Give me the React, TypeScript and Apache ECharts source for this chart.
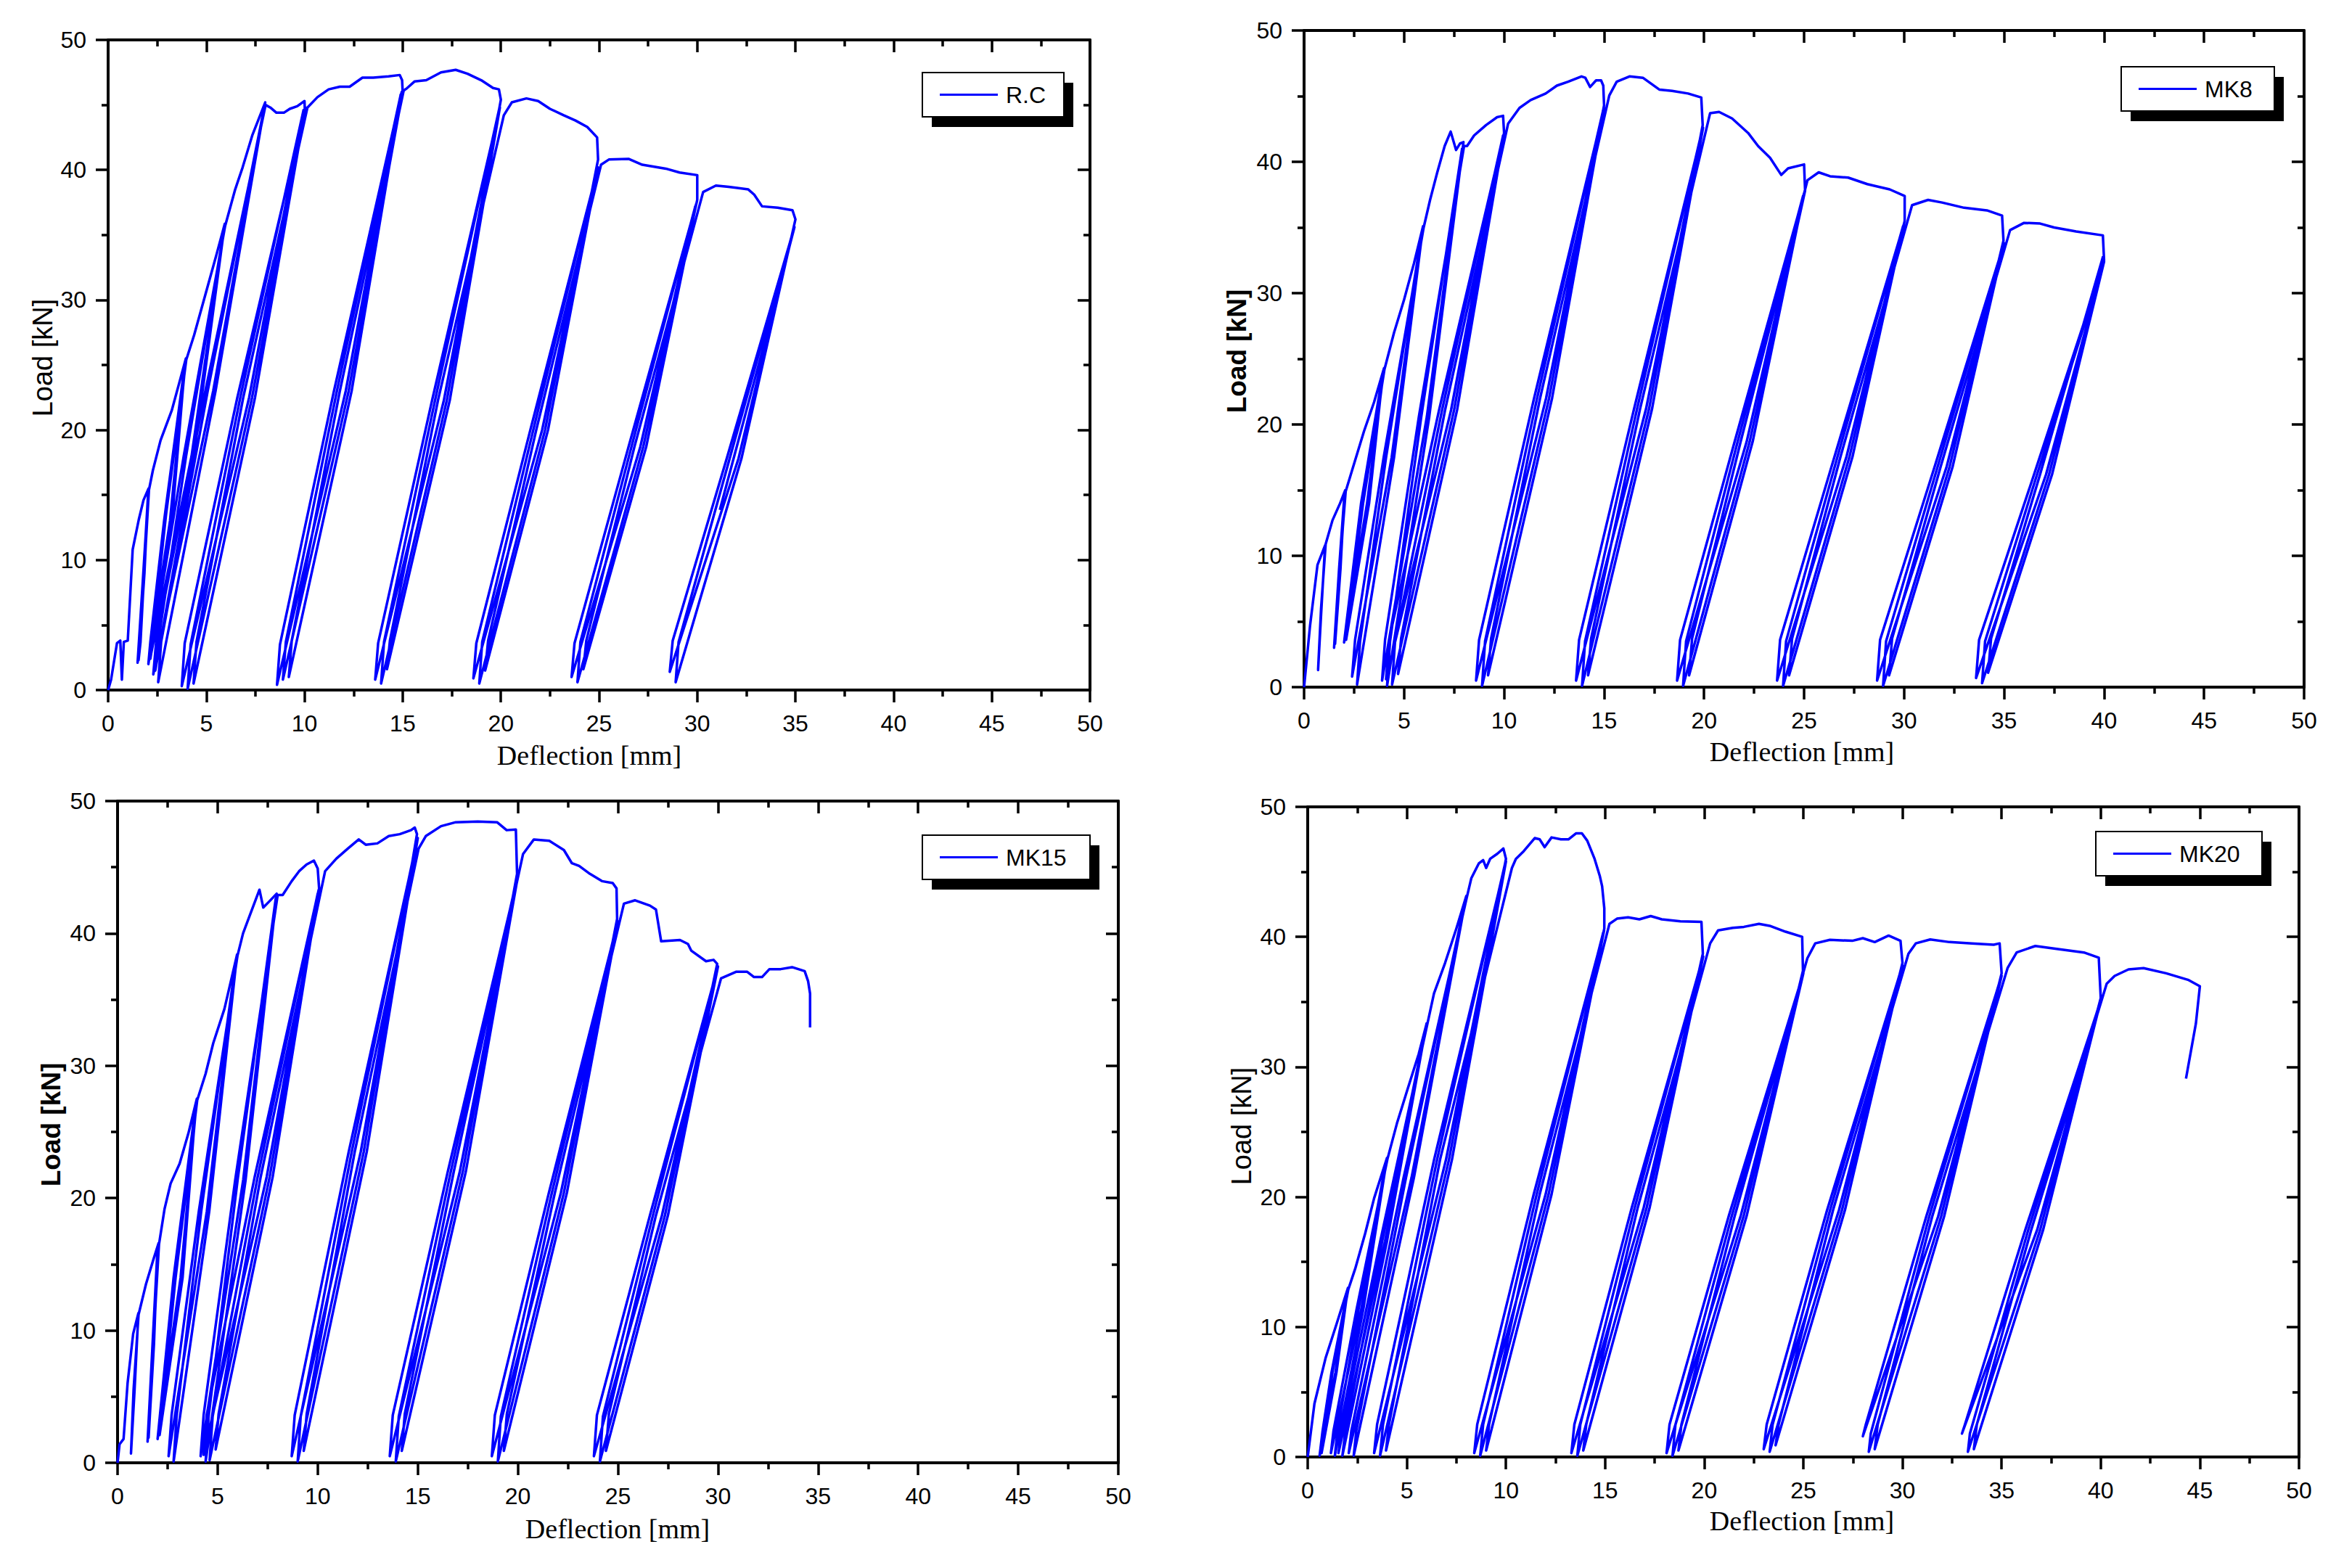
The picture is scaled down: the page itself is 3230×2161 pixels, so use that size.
import React, { useEffect, useRef } from "react";
import * as echarts from "echarts";

type Pt = [number, number];

// ---------- axis ranges / ticks ----------
const xRange: [number, number] = [0, 50];
const xStep = 5;
const yRange: [number, number] = [0, 50];
const yStep = 10;
const seriesNames = ["R.C", "MK8", "MK15", "MK20"];
const axisTitleX = "Deflection [mm]";
const axisTitleY = "Load [kN]";

// ---------- R.C ----------
const rcRise: Pt[] = [[0,0],[0.15,0.8],[0.45,3.6],[0.62,3.8],[0.7,0.8],[0.8,3.7],[1.0,3.8],[1.25,10.8],[1.56,13.1],[1.8,14.6],[2.06,15.5],
  [1.75,8],[1.5,2.1],[1.6,3.7],[1.8,9],[2.04,15.2],[1.85,9],[1.55,2.3],[1.65,3.7],[1.85,9.5],[2.08,15.4],
  [2.28,16.9],[2.67,19.2],[3.24,21.5],[3.6,23.5],[3.96,25.5]];
const rcCycle4: Pt[] = [[3.15,13],[2.05,2.0],[2.15,3.7],[2.85,13],[3.92,25.2],[3.25,13],[2.15,2.4],[2.25,3.8],[2.95,13.5],[3.98,25.4],
  [4.38,27.3],[4.95,30.4],[5.52,33.5],[5.94,35.85]];
const rcCycle6: Pt[] = [[4.37,18],[2.4,1.5],[2.55,3.7],[3.97,18],[5.9,35.4],[4.25,18],[2.15,2.5],[2.3,3.8],[3.85,18],[5.96,35.7],
  [6.47,38.5],[6.85,40.2],[7.35,42.7],[8.0,45.2]];
const rcCycle8: Pt[] = [[5.47,23],[2.55,0.6],[2.7,3.7],[5.07,23],[7.95,44.8],[5.35,23],[2.3,1.2],[2.45,3.8],[4.95,23],[8.02,45.0],
  [8.26,44.8],[8.57,44.4],[8.95,44.4],[9.25,44.7],[9.63,44.9],[10.0,45.3]];
const rcCycle10: Pt[] = [[10.02,44.5],[7.33,22.5],[4.05,0.1],[4.2,3.5],[6.73,22.5],[9.95,44.6],[7.18,22.5],[3.75,0.3],[3.9,3.6],[6.58,22.5],[10.05,44.8],
  [7.48,22.5],[4.35,0.5],[4.5,3.7],[6.88,22.5],[10.15,44.8],
  [10.66,45.6],[11.23,46.2],[11.8,46.4],[12.3,46.4],[12.95,47.1],[13.5,47.1],[14.28,47.2],[14.85,47.3],[14.97,46.9]];
const rcCycle15: Pt[] = [[15.0,46.0],[12.25,23],[8.9,0.8],[9.05,3.7],[11.65,23],[14.9,45.8],[12.1,23],[8.6,0.4],[8.75,3.5],[11.5,23],[14.95,46.0],
  [12.4,23],[9.2,1.0],[9.35,3.8],[11.8,23],[15.05,46.1],
  [15.23,46.3],[15.6,46.8],[16.2,46.9],[16.95,47.5],[17.7,47.7],[18.3,47.4],[19.0,46.9],[19.6,46.3],[19.9,46.2],[20.0,45.4]];
const rcCycle20: Pt[] = [[17.25,22.3],[13.9,0.5],[14.05,3.7],[16.65,22.3],[19.9,44.6],[17.1,22.3],[13.6,0.8],[13.75,3.6],[16.5,22.3],[19.95,44.8],
  [17.4,22.3],[14.2,1.6],[14.35,3.8],[16.8,22.3],[20.15,44.2],
  [20.56,45.2],[21.3,45.5],[21.9,45.3],[22.5,44.7],[23.2,44.2],[23.8,43.8],[24.4,43.3],[24.9,42.5],[24.95,40.8]];
const rcCycle25: Pt[] = [[22.25,20],[18.9,0.5],[19.05,3.7],[21.65,20],[24.9,40.0],[22.1,20],[18.6,0.9],[18.75,3.6],[21.5,20],[24.95,40.2],
  [22.4,20],[19.2,1.5],[19.35,3.8],[21.8,20],[25.1,40.4],
  [25.5,40.8],[26.5,40.85],[27.2,40.4],[28.4,40.1],[29.1,39.8],[30.0,39.6],[30.0,37.7]];
const rcCycle30: Pt[] = [[27.25,18.7],[23.9,0.6],[24.05,3.7],[26.65,18.7],[29.9,37.2],[27.1,18.7],[23.6,1.0],[23.75,3.6],[26.5,18.7],[29.95,37.4],
  [27.4,18.7],[24.2,1.6],[24.35,3.8],[26.8,18.7],[30.3,38.3],
  [30.95,38.8],[31.6,38.7],[32.6,38.5],[32.9,38.1],[33.3,37.2],[34.1,37.1],[34.85,36.9],[35.0,36.2]];
const rcCycle35: Pt[] = [[32.25,17.8],[28.9,0.6],[29.05,3.7],[31.65,17.8],[34.9,35.4],[32.1,17.8],[28.6,1.4],[28.75,3.8],[31.5,17.8],[34.95,35.6],
  [33.3,26],[31.15,13.85]];

// ---------- MK8 ----------
const mk8Rise: Pt[] = [[0,0],[0.3,4.7],[0.67,9.3],[1.05,10.8],[0.85,5.5],[0.7,1.3],[0.85,6],[1.08,10.9],[1.42,12.7],[1.8,14.0],[2.06,15.0],
  [1.8,9],[1.5,3.0],[1.75,9],[2.02,14.7],[1.82,9],[1.55,3.3],[1.78,9.2],[2.08,14.9],[2.4,16.5],[3.0,19.5],[3.5,21.7],[4.0,24.3]];
const mk8Cycle4: Pt[] = [[3.15,14],[2.0,3.4],[2.85,14],[3.95,24.0],[3.25,14],[2.1,3.6],[2.95,14],[4.02,24.2],
  [4.5,27.0],[5.0,29.5],[5.5,32.3],[5.95,35.1]];
const mk8Cycle6: Pt[] = [[4.5,17.5],[2.65,0.2],[2.8,3.5],[4.1,17.5],[5.9,34.7],[4.38,17.5],[2.4,0.8],[2.55,3.6],[3.98,17.5],[5.98,35.0],
  [6.3,37.1],[6.66,39.2],[7.03,41.2],[7.33,42.3],[7.6,40.9],[7.8,41.4],[7.97,41.5]];
const mk8Cycle8: Pt[] = [[6.26,20.6],[4.15,0.1],[4.3,3.5],[5.86,20.6],[7.9,41.0],[6.14,20.6],[3.9,0.5],[4.05,3.6],[5.74,20.6],[8.0,41.2],
  [8.15,41.2],[8.5,42.0],[9.1,42.8],[9.65,43.4],[9.95,43.5],[10.0,42.2]];
const mk8Cycle10: Pt[] = [[7.5,21.1],[4.4,0.2],[4.55,3.5],[6.9,21.1],[9.95,42.0],[7.35,21.1],[4.1,0.6],[4.25,3.6],[6.75,21.1],[10.02,42.3],
  [7.65,21.1],[4.7,1.0],[4.85,3.7],[7.05,21.1],[10.2,42.9],
  [10.77,44.1],[11.33,44.7],[12.08,45.2],[12.64,45.8],[13.2,46.1],[13.87,46.5],[14.06,46.4],[14.3,45.7],[14.6,46.2],[14.85,46.2],[14.96,45.8],[15.0,44.3]];
const mk8Cycle15: Pt[] = [[12.25,22],[8.9,0.1],[9.05,3.5],[11.65,22],[14.95,43.9],[12.1,22],[8.6,0.5],[8.75,3.6],[11.5,22],[15.0,44.1],
  [12.4,22],[9.2,0.9],[9.35,3.7],[11.8,22],[15.26,45.05],
  [15.63,46.1],[16.27,46.5],[16.94,46.4],[17.76,45.5],[18.4,45.4],[19.2,45.2],[19.86,44.9],[19.93,42.8]];
const mk8Cycle20: Pt[] = [[17.25,21.2],[13.9,0.1],[14.05,3.5],[16.65,21.2],[19.9,42.4],[17.1,21.2],[13.6,0.5],[13.75,3.6],[16.5,21.2],[19.95,42.6],
  [17.4,21.2],[14.2,0.9],[14.35,3.7],[16.8,21.2],[20.3,43.7],
  [20.75,43.8],[21.4,43.3],[22.2,42.2],[22.7,41.2],[23.3,40.3],[23.86,39.0],[24.2,39.5],[25.0,39.8],[25.05,37.8]];
const mk8Cycle25: Pt[] = [[22.28,18.7],[18.95,0.1],[19.1,3.5],[21.68,18.7],[24.95,37.4],[22.13,18.7],[18.65,0.5],[18.8,3.6],[21.53,18.7],[25.0,37.6],
  [22.43,18.7],[19.25,0.9],[19.4,3.7],[21.83,18.7],[25.17,38.6],
  [25.73,39.2],[26.3,38.9],[27.2,38.8],[28.16,38.3],[29.28,37.9],[30.03,37.4],[30.03,35.5]];
const mk8Cycle30: Pt[] = [[27.28,17.6],[23.95,0.1],[24.1,3.5],[26.68,17.6],[29.95,35.1],[27.13,17.6],[23.65,0.5],[23.8,3.6],[26.53,17.6],[30.0,35.3],
  [27.43,17.6],[24.25,0.9],[24.4,3.7],[26.83,17.6],[30.4,36.7],
  [31.2,37.1],[31.9,36.9],[33.0,36.5],[34.14,36.3],[34.9,35.9],[34.97,34.0]];
const mk8Cycle35: Pt[] = [[32.28,16.8],[28.95,0.1],[29.1,3.5],[31.68,16.8],[34.95,33.6],[32.13,16.8],[28.65,0.5],[28.8,3.6],[31.53,16.8],[35.0,33.8],
  [32.43,16.8],[29.25,0.9],[29.4,3.7],[31.83,16.8],[35.3,34.8],
  [36.0,35.35],[36.8,35.3],[37.5,35.0],[38.6,34.7],[39.94,34.4],[40.0,32.5]];
const mk8Cycle40: Pt[] = [[37.25,16.2],[33.9,0.3],[34.05,3.5],[36.65,16.2],[39.95,32.1],[37.1,16.2],[33.6,0.7],[33.75,3.6],[36.5,16.2],[40.0,32.4],
  [37.4,16.2],[34.2,1.1],[34.35,3.7],[36.8,16.2],[39.95,32.8]];

// ---------- MK15 ----------
const mk15Rise: Pt[] = [[0,0],[0.1,1.4],[0.3,1.8],[0.5,6.0],[0.78,9.75],[1.04,11.3],[0.85,5.5],[0.67,0.7],[0.8,5.5],[1.05,11.2],
  [1.42,13.5],[1.8,15.4],[2.05,16.6],
  [1.8,9],[1.5,1.6],[1.75,9],[2.0,16.3],[1.82,9],[1.55,1.9],[1.78,9],[2.07,16.5],
  [2.35,19.2],[2.65,21.1],[3.1,22.6],[3.54,24.9],[3.96,27.5]];
const mk15Cycle4: Pt[] = [[3.15,14],[2.0,1.8],[2.8,14],[3.92,27.2],[3.25,14],[2.1,2.1],[2.9,14],[3.98,27.4],
  [4.4,29.4],[4.78,31.7],[5.34,34.3],[5.97,38.4]];
const mk15Cycle6: Pt[] = [[4.58,19],[2.8,0.1],[2.95,3.5],[4.18,19],[5.92,38.0],[4.46,19],[2.55,0.5],[2.7,3.6],[4.06,19],[5.99,38.3],
  [6.27,40.0],[6.64,41.5],[7.09,43.3],[7.28,41.95],[7.57,42.4],[7.95,43.0]];
const mk15Cycle8: Pt[] = [[6.4,21.4],[4.4,0.1],[4.55,3.5],[6.0,21.4],[7.9,42.6],[6.28,21.4],[4.15,0.5],[4.3,3.6],[5.88,21.4],[8.0,42.9],
  [8.25,42.9],[8.7,43.95],[9.07,44.7],[9.44,45.2],[9.81,45.5],[10.0,44.9],[10.07,43.4]];
const mk15Cycle10: Pt[] = [[7.6,21.6],[4.6,0.2],[4.75,3.5],[7.0,21.6],[10.0,43.0],[7.45,21.6],[4.3,0.6],[4.45,3.6],[6.85,21.6],[10.05,43.3],
  [7.75,21.6],[4.9,1.0],[5.05,3.7],[7.15,21.6],[10.37,44.7],
  [10.93,45.65],[11.5,46.4],[12.05,47.1],[12.4,46.7],[12.98,46.8],[13.55,47.35],[14.1,47.5],[14.66,47.8],[14.85,48.0],[14.96,47.5]];
const mk15Cycle15: Pt[] = [[12.3,23.5],[9.0,0.1],[9.15,3.5],[11.7,23.5],[14.95,47.0],[12.15,23.5],[8.7,0.5],[8.85,3.6],[11.55,23.5],[15.0,47.2],
  [12.45,23.5],[9.3,0.9],[9.45,3.7],[11.85,23.5],[15.04,46.4],
  [15.4,47.35],[16.16,48.1],[16.9,48.4],[18.0,48.45],[18.96,48.4],[19.44,47.8],[19.9,47.85],[19.96,44.5]];
const mk15Cycle20: Pt[] = [[17.25,22],[13.9,0.1],[14.05,3.5],[16.65,22],[19.95,44.1],[17.1,22],[13.6,0.5],[13.75,3.6],[16.5,22],[20.0,44.3],
  [17.4,22],[14.2,0.9],[14.35,3.7],[16.8,22],[20.26,46.0],
  [20.8,47.1],[21.57,47.0],[22.3,46.3],[22.7,45.3],[23.06,45.1],[23.6,44.5],[24.2,43.95],[24.74,43.8],[24.93,43.4],[24.96,41.1]];
const mk15Cycle25: Pt[] = [[22.3,20.4],[19.0,0.1],[19.15,3.5],[21.7,20.4],[24.95,40.7],[22.15,20.4],[18.7,0.5],[18.85,3.6],[21.55,20.4],[25.0,40.9],
  [22.45,20.4],[19.3,0.9],[19.45,3.7],[21.85,20.4],[25.3,42.25],
  [25.86,42.5],[26.6,42.1],[26.9,41.8],[27.16,39.4],[28.1,39.5],[28.5,39.2],[28.66,38.7],[29.4,37.9],[29.78,38.0],[29.96,37.7]];
const mk15Cycle30: Pt[] = [[27.35,18.7],[24.1,0.1],[24.25,3.5],[26.75,18.7],[29.95,37.3],[27.2,18.7],[23.8,0.5],[23.95,3.6],[26.6,18.7],[30.0,37.5],
  [27.5,18.7],[24.4,0.9],[24.55,3.7],[26.9,18.7],[30.15,36.6],
  [30.9,37.1],[31.46,37.1],[31.8,36.7],[32.2,36.7],[32.57,37.3],[33.13,37.3],[33.7,37.45],[34.33,37.15],[34.5,36.4],[34.6,35.45],[34.6,32.9]];

// ---------- MK20 ----------
const mk20Rise: Pt[] = [[0,0],[0.34,4.1],[0.9,7.6],[1.47,10.3],[2.03,13.0],
  [1.4,6.5],[0.6,0.1],[0.75,2],[1.2,6.5],[2.0,12.7],[1.45,6.5],[0.7,0.3],[0.85,2],[1.25,6.5],[2.05,12.9],
  [2.4,14.5],[2.9,17.2],[3.35,19.9],[4.0,23.0]];
const mk20Cycle4: Pt[] = [[2.81,11.4],[1.37,0.1],[1.5,2],[2.57,11.4],[3.95,22.7],[2.71,11.4],[1.17,0.3],[1.3,2],[2.47,11.4],[4.02,22.9],
  [4.5,25.65],[5.05,28.35],[5.6,31.0],[6.0,33.35]];
const mk20Cycle6: Pt[] = [[4.0,16.6],[1.75,0.1],[1.9,2],[3.76,16.6],[5.95,33.0],[3.9,16.6],[1.55,0.3],[1.7,2],[3.66,16.6],[6.02,33.2],
  [6.37,35.65],[6.93,38.0],[7.5,40.65],[8.0,43.15]];
const mk20Cycle8: Pt[] = [[5.36,21.5],[2.32,0.1],[2.45,2],[4.96,21.5],[7.95,42.8],[5.24,21.5],[2.07,0.3],[2.2,2],[4.84,21.5],[8.02,43.0],
  [8.25,44.5],[8.63,45.65],[8.85,45.9],[9.0,45.3],[9.2,46.0],[9.57,46.4],[9.87,46.8],[10.0,46.0]];
const mk20Cycle10: Pt[] = [[7.13,22.9],[3.65,0.1],[3.8,2.5],[6.53,22.9],[9.95,45.6],[6.98,22.9],[3.35,0.3],[3.5,2.5],[6.38,22.9],[10.0,45.8],
  [7.28,22.9],[3.95,0.5],[4.1,2.5],[6.68,22.9],[10.3,45.3],
  [10.5,46.0],[10.9,46.6],[11.45,47.6],[11.7,47.5],[11.95,46.9],[12.3,47.65],[12.77,47.5],[13.15,47.5],[13.53,47.96],[13.83,47.96],
  [14.1,47.4],[14.47,46.0],[14.73,44.7],[14.85,43.9],[14.96,42.2],[14.96,40.65]];
const mk20Cycle15: Pt[] = [[12.15,20.2],[8.7,0.1],[8.85,2.5],[11.55,20.2],[14.9,40.3],[12.0,20.2],[8.4,0.3],[8.55,2.5],[11.4,20.2],[14.95,40.5],
  [12.3,20.2],[9.0,0.5],[9.15,2.5],[11.7,20.2],[15.22,41.0],
  [15.6,41.4],[16.16,41.5],[16.73,41.35],[17.3,41.6],[17.86,41.35],[18.8,41.2],[19.86,41.15],[19.93,38.7]];
const mk20Cycle20: Pt[] = [[17.1,19.2],[13.6,0.1],[13.75,2.5],[16.5,19.2],[19.9,38.3],[16.95,19.2],[13.3,0.3],[13.45,2.5],[16.35,19.2],[19.95,38.5],
  [17.25,19.2],[13.9,0.5],[14.05,2.5],[16.65,19.2],[20.3,39.5],
  [20.7,40.5],[21.44,40.7],[22.0,40.77],[22.76,41.0],[23.3,40.85],[24.1,40.4],[24.94,40.0],[24.98,37.4]];
const mk20Cycle25: Pt[] = [[22.0,18.6],[18.4,0.1],[18.55,2.5],[21.4,18.6],[24.95,37.0],[21.85,18.6],[18.1,0.3],[18.25,2.5],[21.25,18.6],[25.0,37.2],
  [22.15,18.6],[18.7,0.5],[18.85,2.5],[21.55,18.6],[25.2,38.35],
  [25.6,39.5],[26.34,39.77],[27.47,39.7],[28.0,39.9],[28.6,39.6],[29.3,40.1],[29.9,39.7],[30.0,38.0]];
const mk20Cycle30: Pt[] = [[26.95,19],[23.3,0.4],[23.45,2.5],[26.35,19],[29.95,37.6],[26.8,19],[23.0,0.6],[23.15,2.5],[26.2,19],[30.0,37.8],
  [27.1,19],[23.6,0.9],[23.75,2.5],[26.5,19],[30.3,38.7],
  [30.67,39.5],[31.4,39.8],[32.37,39.6],[33.5,39.5],[34.6,39.4],[34.9,39.5],[35.0,37.2]];
const mk20Cycle35: Pt[] = [[31.95,18.5],[28.3,0.4],[28.4,1.8],[31.35,18.5],[34.95,36.8],[31.8,18.5],[28.0,1.6],[28.15,2.5],[31.2,18.5],[35.0,37.0],
  [32.1,18.5],[28.6,0.6],[28.75,2.5],[31.5,18.5],[35.3,37.6],
  [35.76,38.8],[36.7,39.3],[37.64,39.1],[39.15,38.8],[39.9,38.4],[40.0,35.3]];
const mk20Cycle40: Pt[] = [[36.95,17.5],[33.3,0.4],[33.4,1.8],[36.35,17.5],[39.95,34.9],[36.8,17.5],[33.0,1.8],[33.15,2.5],[36.2,17.5],[40.0,35.1],
  [37.1,17.5],[33.6,0.6],[33.75,2.5],[36.5,17.5],[40.3,36.4],
  [40.7,37.0],[41.4,37.5],[42.16,37.6],[43.3,37.2],[44.4,36.7],[45.0,36.2],[44.8,33.35],[44.3,29.1]];

const rcData: Pt[] = [...rcRise, ...rcCycle4, ...rcCycle6, ...rcCycle8, ...rcCycle10, ...rcCycle15, ...rcCycle20, ...rcCycle25, ...rcCycle30, ...rcCycle35];
const mk8Data: Pt[] = [...mk8Rise, ...mk8Cycle4, ...mk8Cycle6, ...mk8Cycle8, ...mk8Cycle10, ...mk8Cycle15, ...mk8Cycle20, ...mk8Cycle25, ...mk8Cycle30, ...mk8Cycle35, ...mk8Cycle40];
const mk15Data: Pt[] = [...mk15Rise, ...mk15Cycle4, ...mk15Cycle6, ...mk15Cycle8, ...mk15Cycle10, ...mk15Cycle15, ...mk15Cycle20, ...mk15Cycle25, ...mk15Cycle30];
const mk20Data: Pt[] = [...mk20Rise, ...mk20Cycle4, ...mk20Cycle6, ...mk20Cycle8, ...mk20Cycle10, ...mk20Cycle15, ...mk20Cycle20, ...mk20Cycle25, ...mk20Cycle30, ...mk20Cycle35, ...mk20Cycle40];
const allData = [rcData, mk8Data, mk15Data, mk20Data];

// ---------- layout (pixels) ----------
const layouts = [
  { grid: { left: 149, top: 55, width: 1353, height: 896 }, box: { x: 1271, y: 100, w: 195, h: 61 }, loadX: 59, loadY: 493, loadBold: false, deflX: 812, deflY: 1041 },
  { grid: { left: 1797, top: 42, width: 1378, height: 905 }, box: { x: 2923, y: 92, w: 211, h: 61 }, loadX: 1704, loadY: 484, loadBold: true, deflX: 2483, deflY: 1036 },
  { grid: { left: 162, top: 1104, width: 1379, height: 912 }, box: { x: 1271, y: 1151, w: 231, h: 61 }, loadX: 70, loadY: 1550, loadBold: true, deflX: 851, deflY: 2107 },
  { grid: { left: 1802, top: 1112, width: 1366, height: 896 }, box: { x: 2888, y: 1146, w: 229, h: 61 }, loadX: 1711, loadY: 1552, loadBold: false, deflX: 2483, deflY: 2096 },
];

const SANS = '"Liberation Sans", Arial, sans-serif';
const SERIF = '"Liberation Serif", "Times New Roman", serif';
const BLUE = "#0000ff";

function makeAxis(kind: "x" | "y", i: number, outer: boolean) {
  const range = kind === "x" ? xRange : yRange;
  const step = kind === "x" ? xStep : yStep;
  const position = kind === "x" ? (outer ? "bottom" : "top") : outer ? "left" : "right";
  return {
    type: "value",
    gridIndex: i,
    position,
    min: range[0],
    max: range[1],
    interval: step,
    axisLine: { show: true, onZero: false, lineStyle: { color: "#000", width: 4 } },
    axisTick: { show: true, inside: !outer, length: 17, lineStyle: { color: "#000", width: 3.5 } },
    minorTick: { show: true, splitNumber: 2, length: 9, lineStyle: { color: "#000", width: 3.5 } },
    splitLine: { show: false },
    minorSplitLine: { show: false },
    axisLabel: {
      show: outer,
      margin: 30,
      fontSize: 32,
      fontFamily: SANS,
      color: "#000",
    },
  };
}

function buildOption() {
  const grid = layouts.map((l) => ({ ...l.grid, containLabel: false }));
  const xAxis: any[] = [];
  const yAxis: any[] = [];
  layouts.forEach((_, i) => {
    xAxis.push(makeAxis("x", i, true), makeAxis("x", i, false));
    yAxis.push(makeAxis("y", i, true), makeAxis("y", i, false));
  });
  const series = allData.map((d, i) => ({
    name: seriesNames[i],
    type: "line",
    xAxisIndex: 2 * i,
    yAxisIndex: 2 * i,
    data: d,
    showSymbol: false,
    symbol: "none",
    lineStyle: { color: BLUE, width: 3.5, join: "round" },
    itemStyle: { color: BLUE },
    silent: true,
  }));
  const graphic: any[] = [];
  layouts.forEach((l, i) => {
    const b = l.box;
    graphic.push(
      { type: "rect", shape: { x: b.x + 13, y: b.y + 14, width: b.w, height: b.h }, style: { fill: "#000" }, silent: true },
      { type: "rect", shape: { x: b.x, y: b.y, width: b.w, height: b.h }, style: { fill: "#fff", stroke: "#000", lineWidth: 2 }, silent: true },
      { type: "line", shape: { x1: b.x + 24, y1: b.y + b.h / 2, x2: b.x + 104, y2: b.y + b.h / 2 }, style: { stroke: BLUE, lineWidth: 3 }, silent: true },
      {
        type: "text",
        x: b.x + 115,
        y: b.y + b.h / 2,
        style: { text: seriesNames[i], x: 0, y: 0, font: `32px ${SANS}`, fill: "#000", align: "left", verticalAlign: "middle", textAlign: "left", textVerticalAlign: "middle" },
        silent: true,
      },
      {
        type: "text",
        x: l.loadX,
        y: l.loadY,
        rotation: Math.PI / 2,
        style: {
          text: axisTitleY,
          x: 0,
          y: 0,
          font: `${l.loadBold ? "bold 37px" : "38px"} ${SANS}`,
          fill: "#000",
          align: "center",
          verticalAlign: "middle",
          textAlign: "center",
          textVerticalAlign: "middle",
        },
        silent: true,
      },
      {
        type: "text",
        x: l.deflX,
        y: l.deflY,
        style: { text: axisTitleX, x: 0, y: 0, font: `38px ${SERIF}`, fill: "#000", align: "center", verticalAlign: "middle", textAlign: "center", textVerticalAlign: "middle" },
        silent: true,
      }
    );
  });
  return {
    animation: false,
    backgroundColor: "#ffffff",
    grid,
    xAxis,
    yAxis,
    series,
    graphic,
  };
}

export default function App() {
  const ref = useRef<HTMLDivElement>(null);
  useEffect(() => {
    if (!ref.current) return;
    const chart = echarts.init(ref.current, undefined, { renderer: "svg", width: 3230, height: 2161 });
    chart.setOption(buildOption() as any);
    return () => chart.dispose();
  }, []);
  return (
    <div
      ref={ref}
      style={{ position: "fixed", left: 0, top: 0, width: 3230, height: 2161, background: "#fff" }}
    />
  );
}
